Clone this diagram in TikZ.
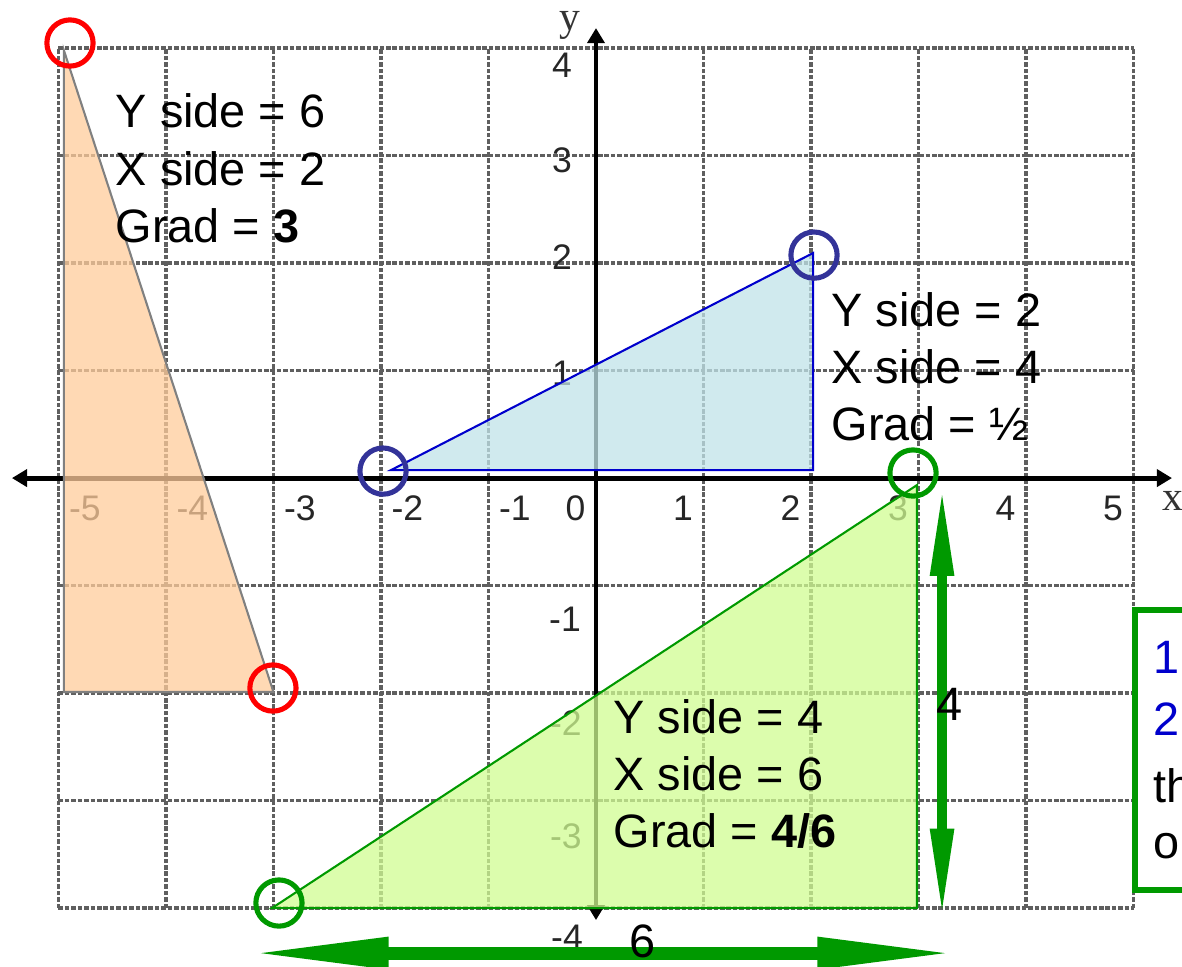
\documentclass[tikz,border=0pt]{standalone}
\usepackage{fontspec}
\setmainfont{Liberation Sans}
\newfontfamily\axisfont{Liberation Serif}
\usetikzlibrary{arrows.meta,positioning}

\definecolor{gridgray}{RGB}{95,95,95}
\definecolor{darkgreen}{RGB}{0,153,0}
\definecolor{navy}{RGB}{51,51,153}
\definecolor{triblue}{RGB}{0,0,204}
\definecolor{peach}{RGB}{255,204,155}
\definecolor{iceblue}{RGB}{192,227,232}
\definecolor{lime}{RGB}{208,252,145}

\begin{document}
\begin{tikzpicture}[
    gridline/.style={gridgray, line width=0.85pt, dash pattern=on 1.2pt off 0.5pt},
    axis/.style={line width=1.3pt, {Triangle[length=4pt,width=4.5pt]}-{Triangle[length=4pt,width=4.5pt]}},
    tick/.style={font=\fontsize{9.4}{11}\selectfont, text=black!85, inner sep=0pt},
    axislbl/.style={font=\axisfont\fontsize{11}{13}\selectfont, text=black!80, inner sep=0pt, anchor=base west},
    info/.style={font=\fontsize{12.4}{15.1}\selectfont, align=left, anchor=base west, inner sep=0pt},
    ring/.style={circle, draw, line width=1.35pt, minimum size=0.43cm, inner sep=0pt},
    side/.style={line width=0.55pt},
    measure/.style={darkgreen, line width=2.7pt, {Triangle[length=0.84cm,width=0.2cm]}-{Triangle[length=0.84cm,width=0.2cm]}},
    measurewide/.style={darkgreen, line width=3.4pt, {Triangle[length=1.3cm,width=0.27cm]}-{Triangle[length=1.3cm,width=0.27cm]}}
]
    \useasboundingbox (-5.544,-4.540) rectangle (5.451,4.447);
    \clip (-5.544,-4.540) rectangle (5.451,4.447);

    % grid and scale
    \draw[gridline] (-5,-4) grid (5,4);
    \foreach \n in {0,...,5}
        \node[tick] (xtick\n) at (\n-0.19,-0.28) {\n};
    \foreach \n in {-5,...,-1}
        \node[tick] (xtick\n) at (\n+0.245,-0.28) {\n};
    \foreach \n/\yy/\xx in {4/3.842/-0.316, 3/2.958/-0.316, 2/2.056/-0.316, 1/0.977/-0.316,
                            -1/-1.312/-0.288, -2/-2.279/-0.280, -3/-3.330/-0.280, -4/-4.270/-0.270}
        \node[tick] (ytick\n) at (\xx,\yy) {\n};

    % axes
    \coordinate (xmin) at (-5.433,0);
    \coordinate (xmax) at (5.358,0);
    \coordinate (ymin) at (0,-4.112);
    \coordinate (ymax) at (0,4.186);
    \draw[axis] (xmin) -- (xmax);
    \draw[axis] (ymin) -- (ymax);
    \node[axislbl] (xlabel) at (5.265,-0.298) {x};
    \node[axislbl] (ylabel) at (-0.35,4.167) {y};

    % triangles
    \fill[peach, fill opacity=0.75] (-4.95,3.98) -- (-4.95,-1.99) -- (-3.0,-1.99) -- cycle;
    \fill[iceblue, fill opacity=0.75] (-1.907,0.074) -- (2.019,2.093) -- (2.019,0.074) -- cycle;
    \fill[lime, fill opacity=0.75] (-3.014,-4.0) -- (2.986,-0.065) -- (2.986,-4.0) -- cycle;
    \draw[side, gray] (-4.95,3.98) -- (-4.95,-1.99) -- (-3.0,-1.99) -- cycle;
    \draw[side, triblue] (-1.907,0.074) -- (2.019,2.093) -- (2.019,0.074) -- cycle;
    \draw[side, darkgreen] (-3.014,-4.0) -- (2.986,-0.065) -- (2.986,-4.0) -- cycle;

    % end points
    \node[ring, red] (redtop) at (-4.893,4.047) {};
    \node[ring, red] (redbot) at (-3.005,-1.953) {};
    \node[ring, navy] (blueleft) at (-1.981,0.065) {};
    \node[ring, navy] (bluetop) at (2.028,2.074) {};
    \node[ring, darkgreen] (greentop) at (2.949,0.047) {};
    \node[ring, darkgreen] (greenbot) at (-2.949,-3.953) {};

    % side lengths (anchored at last line)
    \node[info] (orangeinfo) at (-4.474,2.195) {Y side = 6\\X side = 2\\Grad = \textbf{3}};
    \node[info] (blueinfo) at (2.186,0.353) {Y side = 2\\X side = 4\\Grad = ½};
    \node[info] (greeninfo) at (0.158,-3.433) {Y side = 4\\X side = 6\\Grad = \textbf{4/6}};

    \coordinate (vtop) at (3.219,-0.07);
    \coordinate (vbot) at (3.219,-4.10);
    \coordinate (hleft) at (-3.23,-4.419);
    \coordinate (hright) at (3.36,-4.419);
    \draw[measure] (vtop) -- (vbot);
    \draw[measurewide] (hleft) -- (hright);
    \node[info, anchor=base] (ylen) at (3.284,-2.251) {4};
    \node[info, anchor=base] (xlen) at (0.437,-4.456) {6};

    % steps box
    \draw[darkgreen, line width=1.5pt, fill=white] (5.014,-1.228) rectangle (5.8,-3.833);
    \node[info, text=triblue] (stepone) at (5.181,-1.814) {1};
    \node[info, text=triblue] (steptwo) at (5.181,-2.391) {2};
    \node[info] (stepth) at (5.181,-3.014) {th};
    \node[info] (stepo) at (5.181,-3.535) {o};
\end{tikzpicture}
\end{document}
